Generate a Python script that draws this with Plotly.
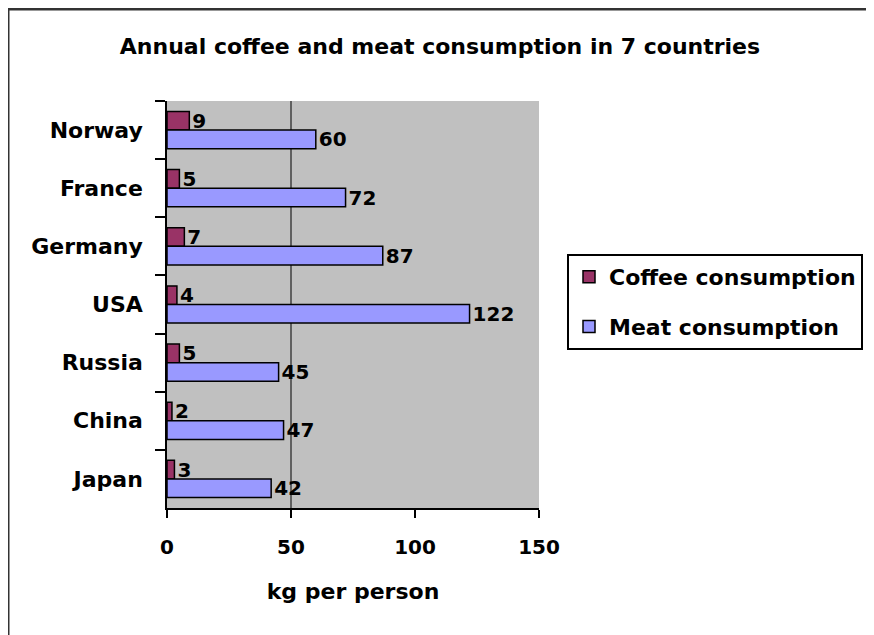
import plotly.graph_objects as go

countries = ["Norway", "France", "Germany", "USA", "Russia", "China", "Japan"]
coffee = [9, 5, 7, 4, 5, 2, 3]
meat = [60, 72, 87, 122, 45, 47, 42]
x_ticks = [0, 50, 100, 150]
grid_at = [50]

TITLE = "Annual coffee and meat consumption in 7 countries"
XTITLE = "kg per person"
FONT = "DejaVu Sans, Verdana, sans-serif"

OFF = 8  # page body margin
W, H = 874 - OFF, 635 - OFF
PL, PR, PT, PB = 167 - OFF, 539 - OFF, 101 - OFF, 508 - OFF
L, R, T, B = PL, W - PR, PT, H - PB
PW, PH = PR - PL, PB - PT

def px_x(x):
    return (x - OFF - PL) / PW

def px_y(y):
    return (PB - (y - OFF)) / PH

fig = go.Figure()
for name, vals, col in [("Coffee consumption", coffee, "#993366"),
                        ("Meat consumption", meat, "#9999FF")]:
    fig.add_trace(go.Bar(
        y=countries, x=vals, orientation="h", name=name, legendgroup=name,
        marker=dict(color=col, line=dict(color="black", width=1.5)),
        text=vals, textposition="outside", cliponaxis=False, constraintext="none",
        textfont=dict(family=FONT, size=20, color="black", weight="bold"),
    ))

shapes = []
for g in grid_at:
    shapes.append(dict(type="line", xref="x", yref="paper", x0=g, x1=g, y0=0, y1=1,
                       line=dict(color="black", width=1), layer="below"))
# outer chart frame
shapes.append(dict(type="rect", xref="paper", yref="paper",
                   x0=px_x(8), x1=px_x(900), y0=px_y(660), y1=px_y(9),
                   line=dict(color="#333333", width=3), fillcolor="rgba(0,0,0,0)"))

fig.update_layout(
    width=W, height=H,
    margin=dict(l=L, r=R, t=T, b=B, autoexpand=False),
    paper_bgcolor="white", plot_bgcolor="#C0C0C0",
    barmode="group", bargap=0.36, bargroupgap=0,
    font=dict(family=FONT, color="black"),
    title=dict(text=TITLE, x=(440 - OFF) / W, xanchor="center",
               y=1 - (46 - OFF) / H, yanchor="middle",
               font=dict(family=FONT, size=22, color="black", weight="bold")),
    legend=dict(x=px_x(567), y=px_y(254), xanchor="left", yanchor="top",
                bordercolor="black", borderwidth=2, bgcolor="white",
                font=dict(family=FONT, size=22, color="black", weight="bold"),
                tracegroupgap=18, itemwidth=30),
    shapes=shapes,
    showlegend=True,
)
fig.update_xaxes(
    range=[0, 150], tickvals=x_ticks, showgrid=False, zeroline=False,
    showline=True, linecolor="black", linewidth=1.5,
    ticks="outside", ticklen=8, tickcolor="black", tickwidth=1.5,
    ticklabelstandoff=12,
    tickfont=dict(family=FONT, size=20, color="black", weight="bold"),
    title=dict(text=XTITLE, standoff=26,
               font=dict(family=FONT, size=22, color="black", weight="bold")),
)
fig.update_yaxes(
    autorange="reversed", showgrid=False, zeroline=False,
    showline=True, linecolor="black", linewidth=1.5,
    ticks="outside", ticklen=10, tickcolor="black", tickwidth=1.5, tickson="boundaries",
    ticklabelstandoff=18,
    tickfont=dict(family=FONT, size=22, color="black", weight="bold"),
)

fig.write_html("out.html")
